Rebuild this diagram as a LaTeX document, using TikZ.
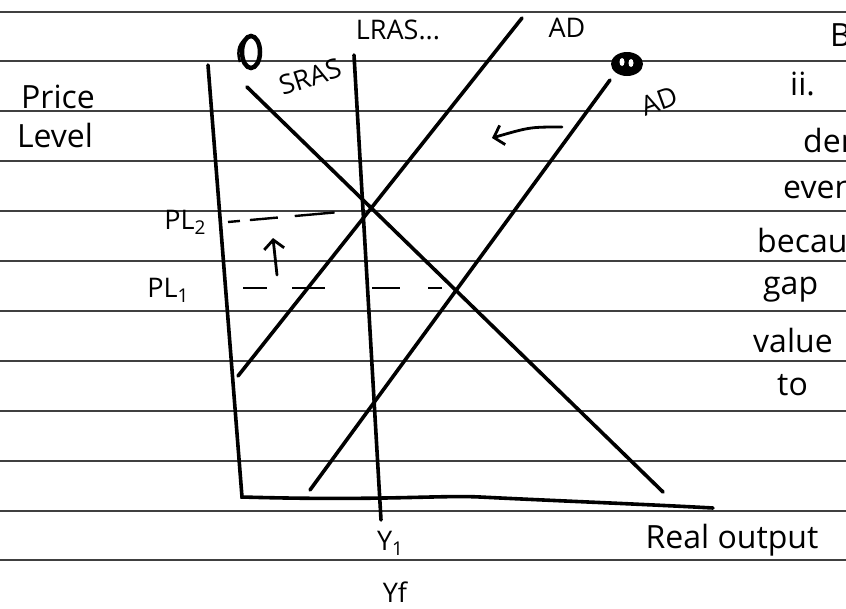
\documentclass[tikz,border=0pt]{standalone}
\usepackage{fontspec}
\setmainfont{Open Sans}
\usetikzlibrary{arrows.meta}
\newcommand{\handsub}[1]{\raisebox{-0.35ex}{\fontsize{19}{19}\selectfont #1}}

\begin{document}
\begin{tikzpicture}[x=1pt,y=-1pt,
	ruled/.style={ black!75, line width=1.3pt },
	curve/.style={ line width=3.6pt, line cap=round },
	guide/.style={ line width=2.4pt },
	shiftarrow/.style={ line width=2.8pt, line cap=round, -{Straight Barb[length=9pt,width=20pt,line width=2.8pt]} },
	hand/.style={ inner sep=0pt, font=\fontsize{32}{34}\selectfont },
	handsmall/.style={ inner sep=0pt, font=\fontsize{27}{29}\selectfont }
]

\useasboundingbox (0,0) rectangle (846,608);
\fill[white] (0,0) rectangle (846,608);

% notebook lines
\foreach \y in {12,61,111,161,211,261,311,361,411,461,511,560}
	\draw[ruled] (0,\y) -- (846,\y);

% axes
\coordinate (ytop) at (208,65);
\coordinate (origin) at (242,497);
\coordinate (xend) at (713,508);
\draw[curve] (ytop) -- (origin) .. controls (380,501) and (440,495) .. (480,497) .. controls (560,501) and (640,504) .. (xend);

% curves
\coordinate (lrastop) at (354,55);
\coordinate (lrasbot) at (381,520);
\coordinate (srastop) at (247,87);
\coordinate (srasbot) at (663,492);
\coordinate (adtwobot) at (238,376);
\coordinate (adtwotop) at (522,18);
\coordinate (adonebot) at (310,490);
\coordinate (adonetop) at (610,80);
\draw[curve] (lrastop) -- (lrasbot);
\draw[curve] (srastop) -- (srasbot);
\draw[curve] (adtwobot) -- (adtwotop);
\draw[curve] (adonebot) -- (adonetop);

% price levels
\coordinate (pltwoa) at (228,222);
\coordinate (pltwob) at (362,210);
\coordinate (plonea) at (243,288);
\coordinate (ploneb) at (442,288);
\draw[guide, dash pattern=on 12pt off 10pt on 28pt off 17pt on 40pt off 30pt] (pltwoa) -- (pltwob);
\draw[guide, dash pattern=on 24pt off 25pt on 33pt off 47pt on 28pt off 28pt on 14pt] (plonea) -- (ploneb);

% shifts
\coordinate (upa) at (277,275);
\coordinate (upb) at (273,238);
\draw[shiftarrow] (upa) -- (upb);
\coordinate (lefta) at (562,127);
\coordinate (leftb) at (492,138);
\draw[shiftarrow] (lefta) .. controls (530,127) .. (leftb);

% circled marks
\draw[line width=4.5pt] (251,52) ellipse (9 and 16);
\draw[line width=2.5pt] (240,62) .. controls (236,50) and (240,42) .. (247,38);
\fill (627,64) ellipse (16 and 12);
\fill[white] (622,62) ellipse (2.5 and 4);
\fill[white] (631,63) ellipse (2.5 and 4);

% labels
\node at (58,97) (price) [hand] {Price};
\node at (55,135) (level) [hand] {Level};
\node at (185,222) (pltwo) [handsmall] {PL\handsub{2}};
\node at (168,290) (plone) [handsmall] {PL\handsub{1}};
\node at (398,30) (lras) [handsmall] {LRAS...};
\node at (310,77) (sras) [handsmall,rotate=18] {SRAS};
\node at (567,28) (adtwo) [handsmall] {AD};
\node at (659,101) (adone) [handsmall,rotate=20] {AD};
\node at (390,543) (yone) [handsmall] {Y\handsub{1}};
\node at (395,592) (yf) [handsmall] {Yf};
\node at (732,540) (output) [hand] {Real output};

% answer text
\node at (830,35) (ansb) [hand,anchor=west] {B};
\node at (790,84) (ansii) [hand,anchor=west] {ii.};
\node at (803,140) (ansa) [hand,anchor=west] {dem};
\node at (783,190) (ansb2) [hand,anchor=west] {even};
\node at (757,240) (ansc) [hand,anchor=west] {because};
\node at (763,290) (ansd) [hand,anchor=west] {gap};
\node at (753,340) (anse) [hand,anchor=west] {value};
\node at (777,385) (ansf) [hand,anchor=west] {to};

\end{tikzpicture}
\end{document}
